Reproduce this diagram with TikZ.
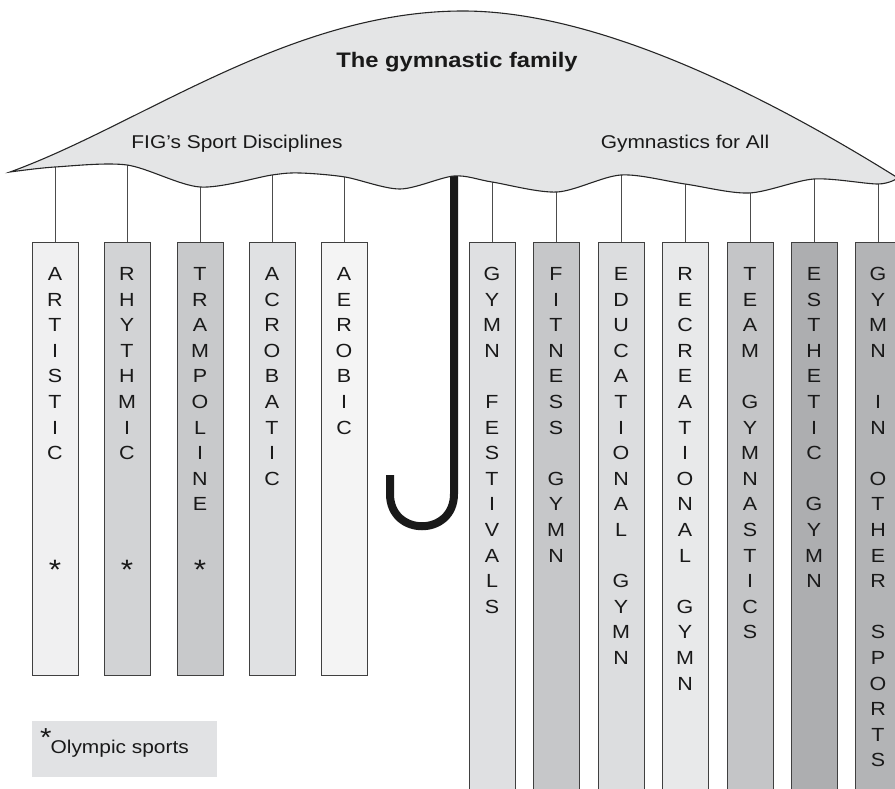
\documentclass[tikz,border=0pt]{standalone}
\usepackage{fontspec}
\setmainfont{Liberation Sans}[FakeStretch=1.13]
\definecolor{canopycol}{HTML}{E4E5E6}
\definecolor{legendcol}{HTML}{E1E2E4}
\definecolor{artcol}{HTML}{F0F0F1}
\definecolor{rhycol}{HTML}{D2D3D5}
\definecolor{tracol}{HTML}{C8C9CB}
\definecolor{acrcol}{HTML}{E0E1E3}
\definecolor{aercol}{HTML}{F4F4F4}
\definecolor{fescol}{HTML}{DFE0E2}
\definecolor{fitcol}{HTML}{C6C7C9}
\definecolor{educol}{HTML}{DCDDDF}
\definecolor{reccol}{HTML}{E8E9EA}
\definecolor{teacol}{HTML}{C4C5C7}
\definecolor{estcol}{HTML}{ADAEB0}
\definecolor{othcol}{HTML}{B3B4B6}
\begin{document}
\begin{tikzpicture}
[x=1pt,y=-1pt,
  colbox/.style={draw=black!75,line width=0.9pt,minimum width=46pt,inner sep=0pt,anchor=north},%
  letter/.style={anchor=base,inner sep=0pt,text=black!90,font=\fontsize{19}{22}\selectfont},%
  olympic/.style={anchor=base,inner sep=0pt,text=black!90,font=\fontsize{28}{30}\selectfont},%
  hanger/.style={draw=black!70,line width=0.9pt},%
  handle/.style={draw=black!90,line width=8pt},%
  canopy/.style={fill=canopycol,draw=black!85,line width=1.1pt},%
  label/.style={anchor=base,inner sep=0pt,text=black!90,font=\fontsize{18.5}{22}\selectfont}]
\useasboundingbox (0,0) rectangle (895,789);
%% columns with their hangers
\foreach \name/\x/\top/\bot/\shade/\word in {
  artistic/55/167/675/artcol/{A,R,T,I,S,T,I,C},
  rhythmic/127/165/675/rhycol/{R,H,Y,T,H,M,I,C},
  trampoline/200/187/675/tracol/{T,R,A,M,P,O,L,I,N,E},
  acrobatic/272/175/675/acrcol/{A,C,R,O,B,A,T,I,C},
  aerobic/344/177/675/aercol/{A,E,R,O,B,I,C},
  festivals/492/182/800/fescol/{G,Y,M,N,{},F,E,S,T,I,V,A,L,S},
  fitness/556/192/800/fitcol/{F,I,T,N,E,S,S,{},G,Y,M,N},
  educational/621/175/800/educol/{E,D,U,C,A,T,I,O,N,A,L,{},G,Y,M,N},
  recreational/685/184/800/reccol/{R,E,C,R,E,A,T,I,O,N,A,L,{},G,Y,M,N},
  team/750/193/800/teacol/{T,E,A,M,{},G,Y,M,N,A,S,T,I,C,S},
  esthetic/814/179/800/estcol/{E,S,T,H,E,T,I,C,{},G,Y,M,N},
  other/878/184/800/othcol/{G,Y,M,N,{},I,N,{},O,T,H,E,R,{},S,P,O,R,T,S}} {
  \node[colbox,fill=\shade,minimum height=\bot-242] (\name) at (\x,242) {};
  \coordinate (\name-hang) at (\x,\top-6);
  \draw[hanger] (\name-hang) -- (\name.north);
  \foreach \ch [count=\i from 0] in \word {
    \node[letter] (\name-\i) at (\x,280.5+25.6*\i) {\ch};
  }
}
%% olympic marks
\foreach \name/\x in {artistic/55, rhythmic/127, trampoline/200} {
  \node[olympic] (\name-star) at (\x,579) {*};
}
%% handle
\coordinate (handletop) at (454,168);
\coordinate (handlebend) at (454,494);
\coordinate (handleend) at (390,475);
\draw[handle] (handletop) -- (handlebend)
  .. controls (454,537) and (390,537) .. (390,494) -- (handleend);
%% canopy
\path[canopy] (10,172) .. controls (140,125) and (290,11) .. (463,11)
  .. controls (600,11) and (770,98) .. (898,178)
  -- plot[smooth,tension=0.5] coordinates {(898,178) (878,184) (814,179)
  (749,193) (685,184) (621,175) (557,192) (492,182) (454,176) (400,189)
  (345,177) (300,173) (272,175) (200,187) (127,165) (55,167) (10,172)} -- cycle;
\node[label,font=\bfseries\fontsize{21}{25}\selectfont] (title) at (457,68) {The gymnastic family};
\node[label] (fig) at (237,149) {FIG’s Sport Disciplines};
\node[label] (gfa) at (685,149) {Gymnastics for All};
%% legend
\node[fill=legendcol,anchor=north west,minimum width=185pt,minimum height=56pt,inner sep=0pt] (legend) at (32,721) {};
\node[label,anchor=base west] (legendtext) at (40,753) {\raisebox{7pt}{\fontsize{26}{26}\selectfont *}\hspace{-1pt}Olympic sports};
\end{tikzpicture}
\end{document}
